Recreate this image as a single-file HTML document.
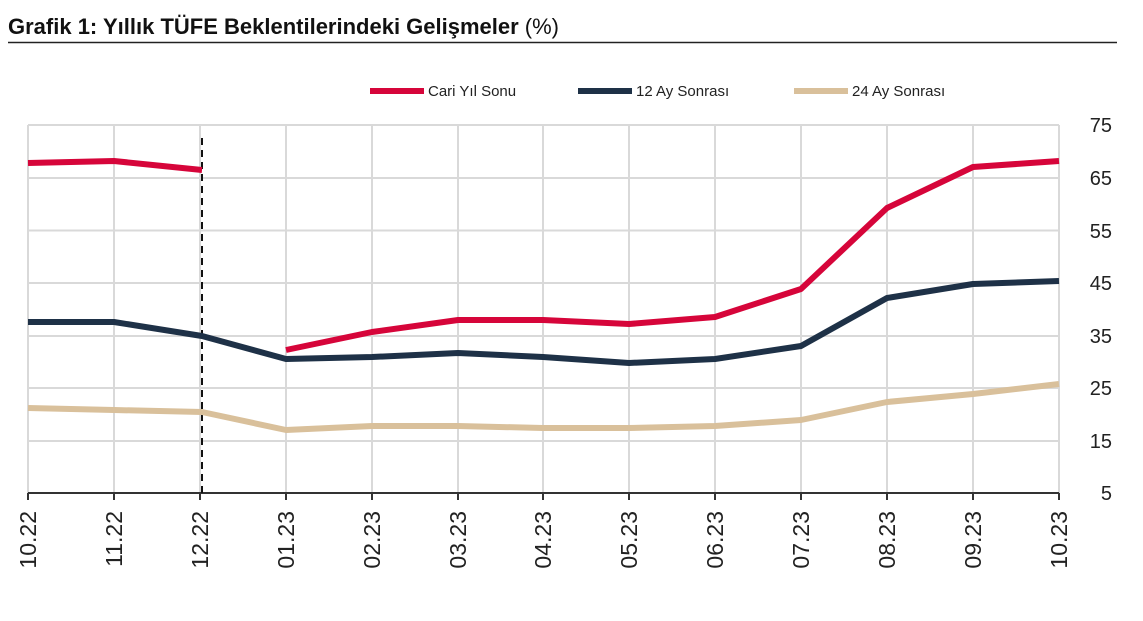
<!DOCTYPE html>
<html><head><meta charset="utf-8"><style>
body{margin:0;background:#fff;width:1143px;height:616px;overflow:hidden;font-family:"Liberation Sans","DejaVu Sans",sans-serif;}
</style></head><body>
<svg width="1143" height="616" xmlns="http://www.w3.org/2000/svg" font-family="Liberation Sans, DejaVu Sans, sans-serif">
<text x="8" y="34" font-size="22" font-weight="bold" fill="#111">Grafik 1: Yıllık TÜFE Beklentilerindeki Gelişmeler <tspan font-weight="normal">(%)</tspan></text>
<line x1="8" y1="42.5" x2="1117" y2="42.5" stroke="#222" stroke-width="1.5"/>
<g stroke="#d9d9d9" stroke-width="2">
<line x1="28" y1="125" x2="1059" y2="125"/><line x1="28" y1="178" x2="1059" y2="178"/><line x1="28" y1="230.5" x2="1059" y2="230.5"/><line x1="28" y1="283" x2="1059" y2="283"/><line x1="28" y1="336" x2="1059" y2="336"/><line x1="28" y1="388" x2="1059" y2="388"/><line x1="28" y1="441" x2="1059" y2="441"/>
<line x1="28" y1="125" x2="28" y2="493"/><line x1="114" y1="125" x2="114" y2="493"/><line x1="200" y1="125" x2="200" y2="493"/><line x1="286" y1="125" x2="286" y2="493"/><line x1="372" y1="125" x2="372" y2="493"/><line x1="458" y1="125" x2="458" y2="493"/><line x1="543" y1="125" x2="543" y2="493"/><line x1="629" y1="125" x2="629" y2="493"/><line x1="715" y1="125" x2="715" y2="493"/><line x1="801" y1="125" x2="801" y2="493"/><line x1="887" y1="125" x2="887" y2="493"/><line x1="973" y1="125" x2="973" y2="493"/><line x1="1059" y1="125" x2="1059" y2="493"/>
</g>
<line x1="28" y1="493" x2="1059" y2="493" stroke="#333" stroke-width="2"/>
<g stroke="#333" stroke-width="2">
<line x1="28" y1="493" x2="28" y2="500"/><line x1="114" y1="493" x2="114" y2="500"/><line x1="200" y1="493" x2="200" y2="500"/><line x1="286" y1="493" x2="286" y2="500"/><line x1="372" y1="493" x2="372" y2="500"/><line x1="458" y1="493" x2="458" y2="500"/><line x1="543" y1="493" x2="543" y2="500"/><line x1="629" y1="493" x2="629" y2="500"/><line x1="715" y1="493" x2="715" y2="500"/><line x1="801" y1="493" x2="801" y2="500"/><line x1="887" y1="493" x2="887" y2="500"/><line x1="973" y1="493" x2="973" y2="500"/><line x1="1059" y1="493" x2="1059" y2="500"/>
</g>
<line x1="202" y1="138" x2="202" y2="493" stroke="#111" stroke-width="2" stroke-dasharray="7,5"/>
<g fill="none" stroke-width="6" stroke-linejoin="round">
<polyline stroke="#d9c09b" points="28,408 114,410 202,412 286,430 372,426 458,426 543,428 629,428 715,426 801,420 887,402 973,394 1059,384"/>
<polyline stroke="#1e3147" points="28,322 114,322 202,336 286,359 372,357 458,353 543,357 629,363 715,359 801,346 887,298 973,284 1059,281"/>
<polyline stroke="#d6053a" points="28,163 114,161 202,170"/>
<polyline stroke="#d6053a" points="286,350 372,332 458,320 543,320 629,324 715,317 801,289 887,208 973,167 1059,161"/>
</g>
<g font-size="15" fill="#222">
<line x1="370" y1="91" x2="424" y2="91" stroke="#d6053a" stroke-width="6"/><text x="428" y="96">Cari Yıl Sonu</text>
<line x1="578" y1="91" x2="632" y2="91" stroke="#1e3147" stroke-width="6"/><text x="636" y="96">12 Ay Sonrası</text>
<line x1="794" y1="91" x2="848" y2="91" stroke="#d9c09b" stroke-width="6"/><text x="852" y="96">24 Ay Sonrası</text>
</g>
<g font-size="20" fill="#222" text-anchor="end">
<text x="1112" y="132">75</text><text x="1112" y="185">65</text><text x="1112" y="238">55</text><text x="1112" y="290">45</text><text x="1112" y="343">35</text><text x="1112" y="395">25</text><text x="1112" y="448">15</text><text x="1112" y="500">5</text>
</g>
<g font-size="23" fill="#222" text-anchor="end">
<text transform="translate(36,511) rotate(-90)">10.22</text>
<text transform="translate(122,511) rotate(-90)">11.22</text>
<text transform="translate(208,511) rotate(-90)">12.22</text>
<text transform="translate(294,511) rotate(-90)">01.23</text>
<text transform="translate(380,511) rotate(-90)">02.23</text>
<text transform="translate(466,511) rotate(-90)">03.23</text>
<text transform="translate(551,511) rotate(-90)">04.23</text>
<text transform="translate(637,511) rotate(-90)">05.23</text>
<text transform="translate(723,511) rotate(-90)">06.23</text>
<text transform="translate(809,511) rotate(-90)">07.23</text>
<text transform="translate(895,511) rotate(-90)">08.23</text>
<text transform="translate(981,511) rotate(-90)">09.23</text>
<text transform="translate(1067,511) rotate(-90)">10.23</text>
</g>
</svg>
</body></html>
